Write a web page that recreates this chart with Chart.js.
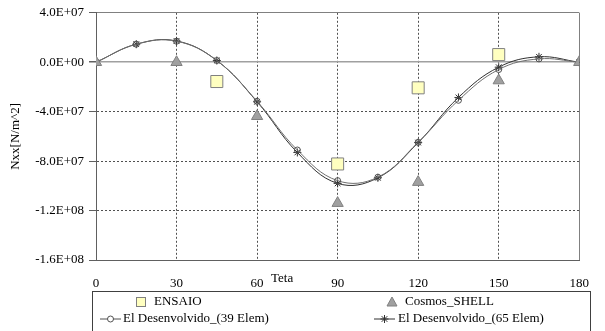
<!DOCTYPE html>
<html>
<head>
<meta charset="utf-8">
<script src="https://cdn.jsdelivr.net/npm/chart.js@4"></script>
<style>
  html, body { margin: 0; padding: 0; background: #fff; }
  #wrap { width: 605px; height: 331px; }
</style>
</head>
<body>
<div id="wrap"><canvas id="myChart" width="605" height="331"></canvas></div>
<script>
const teta = [0, 15, 30, 45, 60, 75, 90, 105, 120, 135, 150, 165, 180]
const elem39 = [0, 1.46e7, 1.70e7, 1.4e6, -3.16e7, -7.1e7, -9.58e7, -9.3e7, -6.48e7, -3.08e7, -5.9e6, 2.7e6, 0]
const elem65 = [0, 1.46e7, 1.72e7, 1.4e6, -3.2e7, -7.3e7, -9.8e7, -9.35e7, -6.5e7, -2.85e7, -4.0e6, 4.4e6, 0]
const ensaioTeta = [45, 90, 120, 150]
const ensaio = [-1.56e7, -8.23e7, -2.07e7, 6.2e6]
const cosmosTeta = [0, 30, 60, 90, 120, 150, 180]
const cosmos = [0, 0, -4.37e7, -1.14e8, -9.7e7, -1.48e7, 0]
const xTicks = [0, 30, 60, 90, 120, 150, 180]
const yTicks = [4e7, 0, -4e7, -8e7, -1.2e8, -1.6e8]

const serif = "'Liberation Serif', 'Times New Roman', serif"
const pts = (xs, ys) => xs.map((x, i) => ({ x: x, y: ys[i] }))

function sci(v) {
  if (Math.abs(v) < 1) return "0.0E+00"
  const e = Math.floor(Math.log10(Math.abs(v)) + 1e-9)
  const m = v / Math.pow(10, e)
  return m.toFixed(1) + "E" + (e < 0 ? "-" : "+") + String(Math.abs(e)).padStart(2, "0")
}

// legenda + titolo asse x disegnati a mano
const legendBox = {
  id: "legendBox",
  afterDraw(chart) {
    const ctx = chart.ctx
    ctx.save()
    ctx.font = "13px " + serif
    ctx.fillStyle = "#000"
    ctx.textBaseline = "middle"
    ctx.fillText("Teta", 271, 279)

    ctx.strokeStyle = "#404040"
    ctx.lineWidth = 1
    ctx.strokeRect(92.5, 291.5, 498, 45)

    const r1 = 302, r2 = 319
    // ENSAIO
    ctx.fillStyle = "#FFFFC0"
    ctx.strokeStyle = "#808080"
    ctx.fillRect(136, r1 - 5, 10, 10)
    ctx.strokeRect(136.5, r1 - 4.5, 9, 9)
    ctx.fillStyle = "#000"
    ctx.fillText("ENSAIO", 154, r1)
    // Cosmos
    ctx.fillStyle = "#A0A0A0"
    ctx.beginPath()
    ctx.moveTo(392, r1 - 5)
    ctx.lineTo(397, r1 + 4)
    ctx.lineTo(387, r1 + 4)
    ctx.closePath()
    ctx.fill()
    ctx.stroke()
    ctx.fillStyle = "#000"
    ctx.fillText("Cosmos_SHELL", 405, r1)
    // 39 elem
    ctx.strokeStyle = "#505050"
    ctx.beginPath()
    ctx.moveTo(100, r2)
    ctx.lineTo(121, r2)
    ctx.stroke()
    ctx.fillStyle = "#fff"
    ctx.beginPath()
    ctx.arc(110.5, r2, 3, 0, Math.PI * 2)
    ctx.fill()
    ctx.stroke()
    ctx.fillStyle = "#000"
    ctx.fillText("El Desenvolvido_(39 Elem)", 123, r2)
    // 65 elem
    ctx.strokeStyle = "#303030"
    ctx.beginPath()
    ctx.moveTo(374, r2)
    ctx.lineTo(395, r2)
    for (let k = 0; k < 4; k++) {
      const a = k * Math.PI / 4
      ctx.moveTo(384.5 - 4 * Math.cos(a), r2 - 4 * Math.sin(a))
      ctx.lineTo(384.5 + 4 * Math.cos(a), r2 + 4 * Math.sin(a))
    }
    ctx.stroke()
    ctx.fillStyle = "#000"
    ctx.fillText("El Desenvolvido_(65 Elem)", 398, r2)
    ctx.restore()
  },
}

const ctx = document.getElementById("myChart").getContext("2d")
const myChart = new Chart(ctx, {
  type: "scatter",
  data: {
    datasets: [
      {
        label: "ENSAIO",
        data: pts(ensaioTeta, ensaio),
        pointStyle: "rect",
        pointRadius: 8.5,
        backgroundColor: "#FFFFC0",
        borderColor: "#808080",
        borderWidth: 1,
        order: 1,
      },
      {
        label: "Cosmos_SHELL",
        data: pts(cosmosTeta, cosmos),
        pointStyle: "triangle",
        pointRadius: 6.5,
        backgroundColor: "#A0A0A0",
        borderColor: "#808080",
        borderWidth: 1,
        order: 2,
      },
      {
        label: "El Desenvolvido_(39 Elem)",
        data: pts(teta, elem39),
        showLine: true,
        tension: 0.4,
        borderColor: "#707070",
        borderWidth: 1,
        pointStyle: "circle",
        pointRadius: 3,
        pointBackgroundColor: "rgba(255,255,255,0)",
        pointBorderColor: "#505050",
        order: 3,
      },
      {
        label: "El Desenvolvido_(65 Elem)",
        data: pts(teta, elem65),
        showLine: true,
        tension: 0.4,
        borderColor: "#303030",
        borderWidth: 1,
        pointStyle: "star",
        pointRadius: 4,
        pointBorderColor: "#303030",
        order: 4,
      },
    ],
  },
  options: {
    responsive: false,
    animation: false,
    layout: { padding: { left: 0, right: 15, top: 11, bottom: 0 } },
    plugins: {
      legend: { display: false },
      tooltip: { enabled: false },
    },
    scales: {
      x: {
        type: "linear",
        min: 0,
        max: 180,
        afterBuildTicks: (s) => { s.ticks = xTicks.map((v) => ({ value: v })) },
        afterFit: (s) => { s.height = 71 },
        ticks: { color: "#000", font: { family: serif, size: 13 }, padding: 16 },
        border: {
          display: true,
          color: "#606060",
          width: 1,
          dash: (c) => (c.tick && c.tick.value === 180 ? [] : [2, 2]),
        },
        grid: {
          drawTicks: false,
          color: (c) => (c.tick && c.tick.value === 0 ? "rgba(0,0,0,0)" : c.tick && c.tick.value === 180 ? "#808080" : "#505050"),
          lineWidth: 1,
        },
      },
      y: {
        min: -1.6e8,
        max: 4e7,
        afterBuildTicks: (s) => { s.ticks = yTicks.map((v) => ({ value: v })) },
        afterFit: (s) => { s.width = 96 },
        ticks: { color: "#000", font: { family: serif, size: 13 }, padding: 5, callback: (v) => sci(v) },
        title: {
          display: true,
          text: "Nxx[N/m^2]",
          color: "#000",
          font: { family: serif, size: 13 },
          padding: { top: 8, bottom: 0 },
        },
        border: {
          display: true,
          color: "#606060",
          width: 1,
          dash: (c) => (c.tick && (c.tick.value === 0 || c.tick.value === 4e7) ? [] : [2, 2]),
        },
        grid: {
          tickLength: 7,
          tickColor: "#606060",
          color: (c) => (c.tick && c.tick.value === 0 ? "#A0A0A0" : c.tick && c.tick.value === 4e7 ? "#808080" : "#505050"),
          lineWidth: (c) => (c.tick && c.tick.value === 0 ? 1.5 : 1),
        },
      },
    },
  },
  plugins: [legendBox],
})
</script>
</body>
</html>
